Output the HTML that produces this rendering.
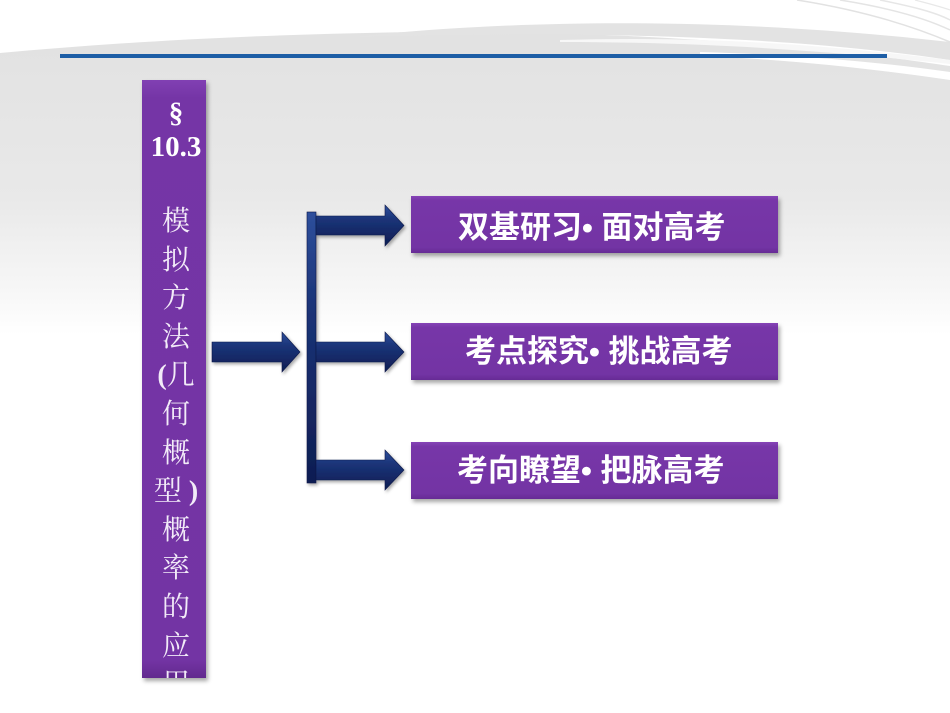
<!DOCTYPE html>
<html>
<head>
<meta charset="utf-8">
<style>
html,body{margin:0;padding:0;}
body{width:950px;height:713px;position:relative;overflow:hidden;background:#fff;font-family:"Liberation Sans","Noto Sans CJK SC",sans-serif;}
svg.bg{position:absolute;left:0;top:0;}
.bar{position:absolute;left:142px;top:80px;width:64px;height:598px;background:linear-gradient(180deg,#8140b3 0%,#7535a6 3%,#7334a4 97%,#62298e 100%);box-shadow:2px 3px 4px rgba(0,0,0,0.35);overflow:hidden;}
.bar .t{position:absolute;left:2px;width:64px;text-align:center;color:#f2ebf8;white-space:nowrap;}
.bar .s{font-family:"Liberation Serif",serif;font-weight:bold;font-size:29px;line-height:34px;color:#fff;}
.bar .c{font-family:"Liberation Serif","Noto Serif CJK SC",serif;font-size:28px;line-height:38.6px;}
.bar .c b{font-family:"Liberation Serif",serif;}
.box{position:absolute;left:411px;width:367px;height:57px;background:linear-gradient(180deg,#8543b6 0%,#7736a8 8%,#7334a4 90%,#662b95 100%);box-shadow:2px 3px 4px rgba(0,0,0,0.35);}
.box span{position:absolute;top:0;line-height:57px;color:#fff;font-weight:bold;font-size:31px;white-space:nowrap;font-family:"Liberation Sans","Noto Sans CJK SC",sans-serif;}
</style>
</head>
<body>
<svg class="bg" width="950" height="713" viewBox="0 0 950 713">
  <defs>
    <linearGradient id="g1" x1="0" y1="0" x2="0" y2="713" gradientUnits="userSpaceOnUse">
      <stop offset="0.06" stop-color="#e2e2e2"/>
      <stop offset="0.28" stop-color="#e9e9e9"/>
      <stop offset="0.40" stop-color="#f6f6f6"/>
      <stop offset="0.47" stop-color="#ffffff"/>
    </linearGradient>
    <linearGradient id="ar" x1="0" y1="0" x2="0" y2="1">
      <stop offset="0" stop-color="#2e4f9c"/>
      <stop offset="0.35" stop-color="#1b3478"/>
      <stop offset="1" stop-color="#0e1d52"/>
    </linearGradient>
    <filter id="sh" x="-10%" y="-10%" width="130%" height="130%">
      <feDropShadow dx="1.5" dy="2" stdDeviation="1.5" flood-color="#000" flood-opacity="0.35"/>
    </filter>
  </defs>
  <path d="M0,53 C120,42 260,34 420,32 C620,30 820,46 950,66 L950,713 L0,713 Z" fill="url(#g1)"/>
  <path d="M360,36 C520,20 720,16 950,42 L950,60 C800,38 620,30 360,37 Z" fill="#e3e3e3"/>
  <path d="M700,52 C800,55 880,62 950,72 L950,80 C880,70 800,60 700,56 Z" fill="#ffffff"/>
  <path d="M560,40 C700,36 820,44 950,60 L950,64 C820,50 700,42 560,42 Z" fill="#f7f7f7"/>
  <path d="M797,0 C860,10 910,25 950,42" stroke="#e2e2e2" stroke-width="1.5" fill="none"/>
  <path d="M840,0 C890,8 925,18 950,30" stroke="#e4e4e4" stroke-width="1.5" fill="none"/>
  <path d="M880,0 C910,6 935,12 950,20" stroke="#e6e6e6" stroke-width="1.5" fill="none"/>
  <path d="M915,0 C930,4 942,7 950,10" stroke="#e8e8e8" stroke-width="1.2" fill="none"/>
  <rect x="60" y="54" width="827" height="4" fill="#1d5ea6"/>
  <g filter="url(#sh)" fill="url(#ar)" stroke="#0c1a4a" stroke-width="0.6">
    <path d="M212,342 L282,342 L282,332 L300,352 L282,372 L282,362 L212,362 Z"/>
    <rect x="307" y="212" width="9" height="271"/>
    <path d="M316,216 L385,216 L385,205 L404,225.5 L385,246 L385,235 L316,235 Z"/>
    <path d="M316,342 L385,342 L385,332 L404,352 L385,372 L385,362 L316,362 Z"/>
    <path d="M316,460 L385,460 L385,450 L404,470 L385,490 L385,480 L316,480 Z"/>
  </g>
</svg>

<div class="bar">
  <div class="t s" style="top:16px;">§</div>
  <div class="t s" style="top:50px;">10.3</div>
  <div class="t c" style="top:123px;">模<br>拟<br>方<br>法<br><b>(</b>几<br>何<br>概<br>型 <b>)</b><br>概<br>率<br>的<br>应<br>用</div>
</div>

<div class="box" style="top:196px;"><span style="left:47px;top:3px;">双基研习• 面对高考</span></div>
<div class="box" style="top:323px;"><span style="left:54px;">考点探究• 挑战高考</span></div>
<div class="box" style="top:442px;"><span style="left:46px;">考向瞭望• 把脉高考</span></div>
</body>
</html>
